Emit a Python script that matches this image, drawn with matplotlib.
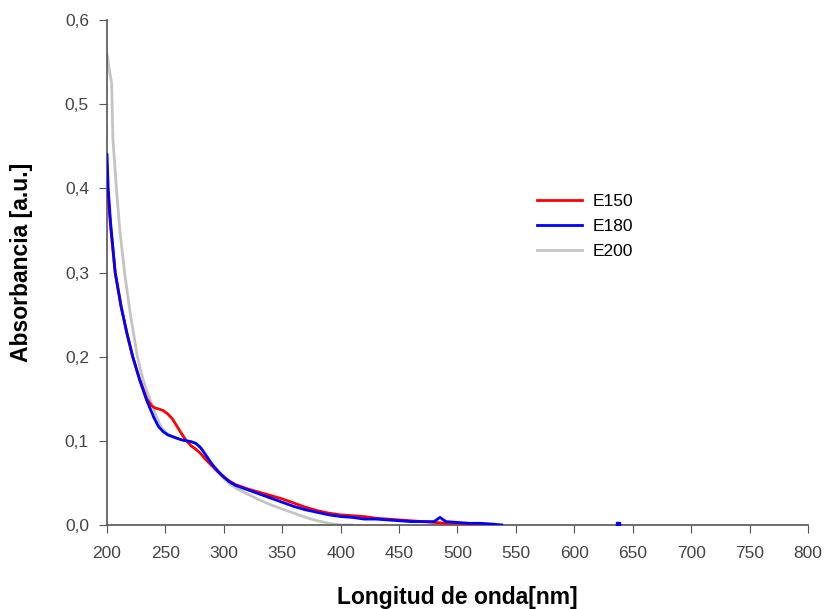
import matplotlib.pyplot as plt

plt.rcParams['font.family'] = ['Liberation Sans', 'DejaVu Sans']

# E150
x_e150 = [200, 201, 203, 207, 212, 217, 222, 228, 234, 238, 241, 244, 248, 252, 256, 260, 264, 268,
          272, 276, 280, 285, 290, 295, 300, 305, 310, 320, 330, 340, 350, 360, 370, 380, 390, 400,
          410, 420, 430, 440, 450, 460, 470, 480, 490, 500, 510, 520]
y_e150 = [0.415, 0.39, 0.355, 0.30, 0.26, 0.228, 0.200, 0.173, 0.150, 0.142, 0.139, 0.138, 0.136,
          0.132, 0.126, 0.117, 0.108, 0.100, 0.094, 0.090, 0.085, 0.077, 0.070, 0.063, 0.057, 0.052,
          0.048, 0.043, 0.039, 0.035, 0.031, 0.026, 0.021, 0.017, 0.014, 0.012, 0.011, 0.010, 0.008,
          0.007, 0.006, 0.005, 0.004, 0.003, 0.002, 0.002, 0.001, 0.0]

# E180
x_e180 = [200, 201, 203, 207, 212, 217, 222, 228, 234, 240, 244, 248, 252, 256, 260, 264, 268, 272,
          276, 280, 285, 290, 295, 300, 305, 310, 320, 330, 340, 350, 360, 370, 380, 390, 400, 410,
          420, 430, 440, 450, 460, 470, 480, 485, 490, 500, 510, 520, 530, 538]
y_e180 = [0.44, 0.40, 0.36, 0.30, 0.26, 0.228, 0.200, 0.172, 0.148, 0.128, 0.117, 0.111, 0.107,
          0.105, 0.103, 0.101, 0.100, 0.099, 0.097, 0.092, 0.082, 0.072, 0.064, 0.057, 0.051, 0.047,
          0.042, 0.037, 0.032, 0.027, 0.022, 0.018, 0.015, 0.012, 0.010, 0.009, 0.007, 0.007, 0.006,
          0.005, 0.004, 0.004, 0.004, 0.009, 0.004, 0.003, 0.002, 0.002, 0.001, 0.0]
x_e180_dot = [637]
y_e180_dot = [0.001]

# E200
x_e200 = [200, 202, 204, 205, 208, 211, 215, 220, 226, 231, 237, 242, 246, 250, 256, 262, 268, 274,
          278, 282, 286, 290, 295, 300, 305, 310, 320, 330, 340, 350, 360, 370, 380, 390, 400, 410]
y_e200 = [0.56, 0.54, 0.525, 0.46, 0.40, 0.35, 0.30, 0.25, 0.20, 0.172, 0.148, 0.130, 0.117, 0.110,
          0.105, 0.102, 0.100, 0.098, 0.095, 0.089, 0.081, 0.072, 0.063, 0.055, 0.049, 0.044, 0.037,
          0.030, 0.024, 0.019, 0.014, 0.009, 0.005, 0.002, 0.0, 0.0]

x_ticks = list(range(200, 801, 50))
y_ticks = [0.0, 0.1, 0.2, 0.3, 0.4, 0.5, 0.6]
y_labels = ['0,0', '0,1', '0,2', '0,3', '0,4', '0,5', '0,6']

fig = plt.figure(figsize=(8.27, 6.09), dpi=100)
ax = fig.add_axes([0.1294, 0.138, 0.8476, 0.829])

ax.plot(x_e200, y_e200, color='#c4c4c4', lw=2, label='E200', zorder=2)
ax.plot(x_e150, y_e150, color='#ff0000', lw=2, label='E150', zorder=3)
ax.plot(x_e180, y_e180, color='#0000ff', lw=2, label='E180', zorder=4)
ax.plot(x_e180_dot, y_e180_dot, 's', color='#0000ff', ms=2.5, zorder=4)

ax.set_xlim(200, 800)
ax.set_ylim(0, 0.6)
ax.set_xticks(x_ticks)
ax.set_yticks(y_ticks)
ax.set_yticklabels(y_labels)

for s in ['top', 'right']:
    ax.spines[s].set_visible(False)
for s in ['left', 'bottom']:
    ax.spines[s].set_color('#555555')
    ax.spines[s].set_linewidth(1.2)
ax.tick_params(direction='out', length=6, color='#555555', labelsize=12.5, labelcolor='#444444')
ax.tick_params(axis='x', pad=9)
ax.tick_params(axis='y', pad=7)

ax.set_xlabel('Longitud de onda[nm]', fontsize=16.5, fontweight='bold')
ax.set_ylabel('Absorbancia [a.u.]', fontsize=16.5, fontweight='bold')
ax.xaxis.set_label_coords(0.5, -0.12)
ax.yaxis.set_label_coords(-0.105, 0.52)

h, l = ax.get_legend_handles_labels()
order = [1, 2, 0]
ax.legend([h[i] for i in order], [l[i] for i in order], frameon=False, fontsize=12.5,
          loc='upper left', bbox_to_anchor=(0.613, 0.655), borderpad=0, borderaxespad=0,
          handlelength=2.6, handletextpad=0.6, labelspacing=0.55)

fig.savefig('out.png', dpi=100)
